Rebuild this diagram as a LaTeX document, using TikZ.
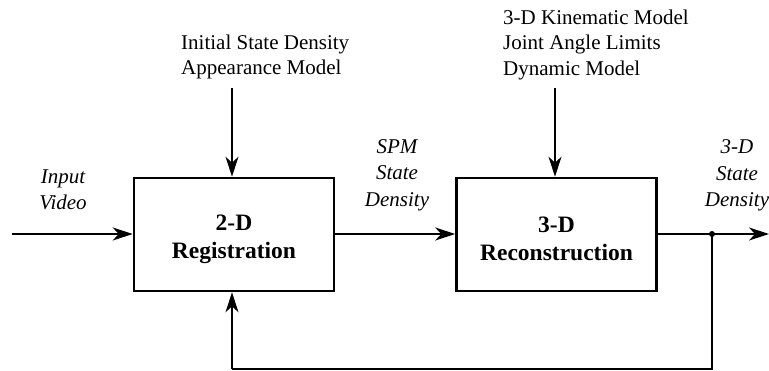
\documentclass[tikz,border=0pt]{standalone}
\usepackage{fontspec}
\setmainfont{Liberation Serif}
\usetikzlibrary{arrows.meta}
\begin{document}
\begin{tikzpicture}[x=1pt,y=-1pt,
  blockbox/.style={draw,line width=2.6pt,minimum width=200pt,minimum height=113pt,inner sep=0pt},
  blocktext/.style={inner sep=0pt,align=center,font=\fontsize{23.5}{28}\selectfont\bfseries},
  conn/.style={line width=1.2pt,-{Stealth[length=20pt,width=13pt,inset=6pt]}},
  plainline/.style={line width=1.2pt},
  lbl/.style={inner sep=0pt,font=\fontsize{21}{26.5}\selectfont\itshape,align=center},
  inlbl/.style={inner sep=0pt,font=\fontsize{21}{25.5}\selectfont,align=left}
]
\useasboundingbox (0,0) rectangle (769,371);
\node[blockbox] (b1) at (234,234.5) {};
\node[blockbox] (b2) at (556.5,234.5) {};
\node[blocktext] (b1t) at (234,239) {2-D\\Registration};
\node[blocktext] (b2t) at (556.5,239) {3-D\\Reconstruction};
\coordinate (in) at (12,234);
\coordinate (out) at (769,234);
\coordinate (tap) at (712,234);
\coordinate (fbr) at (712,369);
\coordinate (fbl) at (232,369);
\coordinate (ta) at (232,88);
\coordinate (tb) at (555,88);
\draw[conn] (in) -- (b1.west |- in);
\draw[conn] (b1.east |- in) -- (b2.west |- in);
\draw[conn] (b2.east |- in) -- (out);
\fill (tap) circle (3pt);
\draw[plainline] (tap) -- (fbr) -- (fbl);
\draw[conn] (fbl) -- (fbl |- b1.south);
\draw[conn] (ta) -- (ta |- b1.north);
\draw[conn] (tb) -- (tb |- b2.north);
\node[lbl] (l1) at (63,190) {Input\\Video};
\node[lbl] (l2) at (397,175) {SPM\\State\\Density};
\node[lbl] (l3) at (737,175.5) {3-D\\State\\Density};
\node[inlbl,anchor=west] (t1) at (181,57) {Initial State Density\\Appearance Model};
\node[inlbl,anchor=west] (t2) at (503,44.5) {3-D Kinematic Model\\Joint Angle Limits\\Dynamic Model};
\end{tikzpicture}
\end{document}
